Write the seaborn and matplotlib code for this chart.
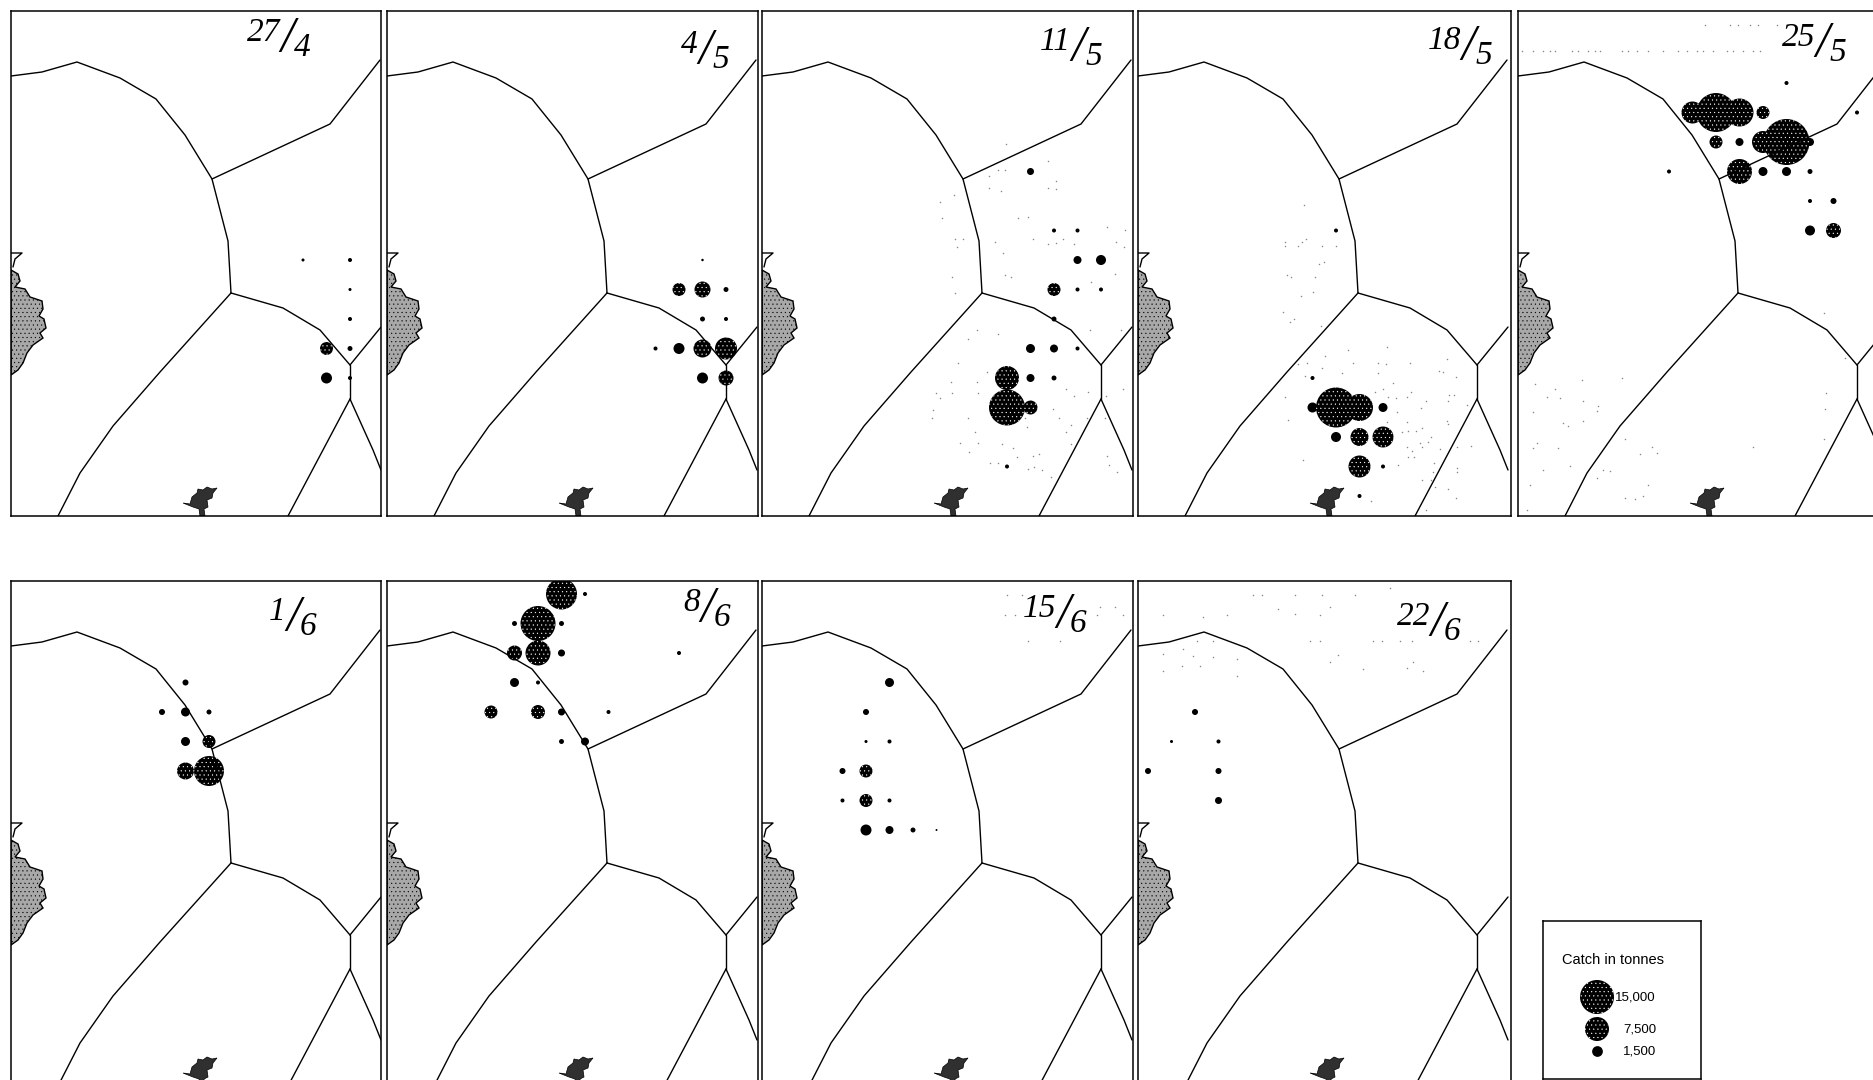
"""
Catch in tonnes per statistical rectangle, one small map per week.
Map coordinates are in panel units (1 unit = 1 pixel of the page).
"""

import matplotlib.pyplot as plt
import pandas as pd
import seaborn as sns

# ------------------------------------------------------------------
# Data
# ------------------------------------------------------------------
# centre of each statistical rectangle on the map
rect_lon = [10, 33.5, 57, 80.5, 104, 127.5, 151, 174.5, 198, 221.5, 245, 268.5, 292, 315.5, 339, 362.5]
rect_lat = [13, 42.5, 72, 101.5, 131, 160.5, 190, 219.5, 249, 278.5, 308, 337.5, 367, 396.5, 426, 455.5, 485]

dates = ["27/4", "4/5", "11/5", "18/5", "25/5", "1/6", "8/6", "15/6", "22/6"]

apr27_col = [12, 14, 14, 14, 14, 14, 13, 13]
apr27_row = [8, 8, 9, 10, 11, 12, 11, 12]
apr27_catch = [120, 210, 120, 210, 320, 210, 2190, 1570]

may04_col = [12, 13, 14, 13, 13, 14, 11, 12, 13, 14, 13, 14]
may04_row = [9, 9, 9, 8, 10, 10, 11, 11, 11, 11, 12, 12]
may04_catch = [2190, 3320, 320, 80, 320, 210, 210, 1570, 4200, 6280, 1570, 2920]

may11_col = [11, 12, 13, 13, 14, 12, 13, 14, 12, 11, 12, 13, 10, 11, 12, 10, 11, 10]
may11_row = [5, 7, 7, 8, 8, 9, 9, 9, 10, 11, 11, 11, 12, 12, 12, 13, 13, 15]
may11_catch = [640, 210, 210, 830, 1300, 2190, 210, 210, 320, 1050, 830, 210, 7470, 830, 320, 16800, 2540, 210]

may18_col = [8, 7, 7, 8, 9, 10, 8, 9, 10, 9, 10, 9]
may18_row = [7, 12, 13, 13, 13, 13, 14, 14, 14, 15, 15, 16]
may18_catch = [210, 210, 1300, 20760, 9460, 1050, 1300, 4200, 5720, 6280, 210, 210]

may25_col = [7, 8, 9, 10, 8, 9, 10, 11, 12, 6, 9, 10, 11, 12, 11, 14, 12, 13, 12, 13]
may25_row = [3, 3, 3, 3, 4, 4, 4, 4, 4, 5, 5, 5, 5, 5, 2, 3, 6, 6, 7, 7]
may25_catch = [6280, 19700, 10170, 2190, 2190, 830, 6280, 27460, 830, 210, 8110, 1050, 1050, 320, 210, 210, 210, 470, 1300, 2920]

jun01_col = [7, 6, 7, 8, 7, 8, 7, 8]
jun01_row = [3, 4, 4, 4, 5, 5, 6, 6]
jun01_catch = [470, 470, 1050, 320, 1050, 2190, 3750, 11680]

jun08_col = [7, 8, 5, 6, 7, 5, 6, 7, 12, 5, 6, 4, 6, 7, 9, 7, 8]
jun08_row = [0, 0, 1, 1, 1, 2, 2, 2, 2, 3, 3, 4, 4, 4, 4, 5, 5]
jun08_catch = [12470, 210, 320, 15900, 320, 2920, 8110, 640, 210, 1050, 210, 2190, 2540, 640, 210, 320, 830]

jun15_col = [5, 4, 4, 5, 3, 4, 3, 4, 5, 4, 5, 6, 7]
jun15_row = [3, 4, 5, 5, 6, 6, 7, 7, 7, 8, 8, 8, 8]
jun15_catch = [1050, 470, 120, 210, 470, 2190, 210, 2190, 210, 1570, 830, 320, 50]

jun22_col = [2, 1, 3, 0, 3, 3]
jun22_row = [4, 5, 5, 6, 6, 7]
jun22_catch = [470, 120, 210, 470, 470, 640]

legend_catch = [15000, 7500, 1500]
legend_labels = ["15,000", "7,500", "1,500"]
legend_title = "Catch in tonnes"

# borders of the fishing zones
border_lines = [
    ([0, 31, 66, 109, 145, 174, 201, 217, 220], [65, 61, 51, 67, 88, 124, 168, 230, 282]),
    ([201, 319, 369], [168, 113, 49]),
    ([220, 272, 309, 339], [282, 297, 319, 354]),
    ([220, 149, 102, 69, 47], [282, 361, 415, 462, 505]),
    ([339, 370], [354, 316]),
    ([339, 339], [354, 388]),
    ([339, 277], [388, 505]),
    ([339, 362, 370], [388, 439, 459]),
]

# coast on the left edge and the islands at the bottom
coast_x = [0, 7, 9, 4, 14, 19, 31, 32, 28, 33, 35, 29, 32, 22, 16, 12, 7, 0]
coast_y = [259, 263, 270, 276, 278, 286, 290, 298, 305, 308, 317, 322, 327, 334, 342, 352, 359, 364]
flag_x = [0, 11, 4, 2]
flag_y = [242, 242, 248, 256]
island_x = [172, 179, 181, 186, 187, 192, 196, 201, 206, 202, 201, 196, 197, 193, 194, 189, 188, 182, 177]
island_y = [492, 493, 486, 482, 478, 479, 476, 478, 477, 482, 487, 489, 496, 498, 505, 505, 498, 496, 494]

# scanner specks on the page, read from the (3x) crops: crop origin, then x and y in crop units
specks_may11 = (930, 140,
    [228, 353, 204, 226, 178, 377, 178, 214, 353, 377, 72, 30, 36, 263, 293, 532, 584, 74, 100, 308, 354, 379, 400, 432,
     558, 582, 80, 195, 218, 65, 225, 243, 555, 483, 74, 480, 572, 140, 204, 114, 85, 170, 62, 140, 18, 65, 145, 30, 8,
     5, 115, 285, 388, 470, 525, 408, 432, 473, 578, 528, 370, 423, 408, 135, 290, 90, 143, 215, 422, 250, 117, 308,
     328, 532, 262, 180, 205, 538, 293, 312, 336, 362, 560],
    [12, 62, 90, 88, 108, 122, 142, 150, 142, 145, 162, 185, 232, 232, 228, 258, 268, 295, 295, 295, 308, 307, 295, 308,
     302, 318, 318, 303, 335, 408, 402, 408, 398, 422, 453, 563, 563, 563, 577, 592, 663, 690, 718, 718, 750, 750, 750,
     765, 802, 825, 825, 825, 825, 825, 825, 740, 760, 748, 740, 760, 800, 846, 866, 866, 853, 900, 900, 903, 903, 915,
     926, 938, 932, 938, 943, 960, 960, 966, 978, 972, 980, 1000, 986])
specks_may18 = (1280, 200,
    [72, 78, 15, 66, 15, 55, 127, 168, 118, 133, 22, 32, 104, 62, 98, 8, 42, 30, 122, 205, 320, 136, 55, 80, 220, 295,
     318, 390, 502, 126, 185, 295, 478, 488, 76, 528, 340, 310, 393, 285, 325, 347, 380, 15, 508, 522, 438, 503, 422,
     352, 560, 24, 380, 322, 500, 505, 385, 408, 367, 425, 453, 420, 443, 380, 425, 480, 395, 530, 572, 385, 402, 70,
     355, 462, 530, 532, 458, 425, 452, 505, 466, 528, 272, 437],
    [14, 115, 125, 125, 138, 138, 138, 138, 190, 183, 222, 230, 228, 285, 273, 333, 352, 362, 375, 446, 438, 463, 487,
     484, 484, 484, 487, 484, 472, 498, 513, 513, 507, 510, 522, 527, 545, 560, 570, 570, 585, 588, 585, 585, 578, 578,
     597, 597, 618, 630, 610, 653, 660, 660, 655, 665, 685, 687, 690, 678, 705, 722, 720, 733, 735, 740, 745, 733, 730,
     763, 763, 772, 787, 782, 795, 808, 808, 832, 832, 858, 852, 885, 893, 920])
specks_may25 = (1500, 0,
    [65, 100, 130, 150, 165, 215, 235, 265, 285, 300, 365, 385, 410, 445, 488, 535, 560, 590, 610, 640, 680, 700, 730,
     760, 780, 615, 690, 715, 750, 775, 830, 105, 165, 245, 365, 140, 180, 250, 295, 100, 290, 190, 250, 205, 100, 175,
     110, 375, 455, 470, 420, 760, 972, 975, 978, 972, 1035, 310, 290, 330, 130, 210, 90, 445, 80, 405, 375, 430],
    [152, 152, 152, 152, 152, 152, 152, 152, 152, 152, 152, 152, 152, 152, 152, 152, 152, 152, 152, 152, 152, 152, 152,
     152, 152, 75, 75, 75, 75, 75, 75, 1140, 1155, 1128, 1122, 1180, 1183, 1190, 1205, 1225, 1220, 1255, 1250, 1265,
     1330, 1330, 1315, 1305, 1328, 1345, 1348, 1328, 1305, 1215, 1168, 930, 1062, 1395, 1420, 1400, 1395, 1385, 1440,
     1440, 1515, 1483, 1480, 1472])
specks_jun = (1000, 575,
    [490, 550, 640, 710, 580, 545, 490, 600, 710, 1015, 990, 1240, 1220, 1270, 1090, 930, 960, 1120, 1145, 1200, 1235,
     1410, 1435, 590, 640, 490, 610, 680, 835, 990, 885, 960, 760, 785, 885, 965, 1065, 1170, 20, 65, 15, 45, 300, 345,
     290, 370, 85, 180],
    [235, 220, 245, 250, 240, 270, 285, 270, 300, 237, 258, 258, 275, 285, 280, 195, 195, 195, 195, 195, 195, 195, 195,
     195, 195, 120, 125, 120, 100, 95, 115, 120, 60, 60, 60, 60, 60, 40, 60, 60, 120, 120, 95, 95, 120, 120, 195, 195])

# ------------------------------------------------------------------
# Layout (page pixels)
# ------------------------------------------------------------------
FIG_W, FIG_H = 1874, 1080
PANEL_H = 505
ROW_TOPS = [11, 581]
PANEL_LEFTS = [11, 387, 762, 1138, 1518]
PANEL_RIGHTS = [381, 758, 1133, 1511, 1874]
SLASH_POS = [(276, 28), (318, 40), (316, 37), (330, 36), (304, 33), (282, 37), (320, 28), (301, 34), (299, 42)]

# marker area in points^2 of a 15,000 t circle (34 px across)
SIZE_15000 = (34 * 0.72) ** 2

sns.set_theme(style="white")
plt.rcParams["font.family"] = ["Liberation Sans", "DejaVu Sans"]
plt.rcParams["hatch.linewidth"] = 0.3


def add_axes_px(left, top, right, bottom):
    return fig.add_axes([left / FIG_W, 1 - bottom / FIG_H, (right - left) / FIG_W, (bottom - top) / FIG_H])


def draw_catch(ax, x, y, catch):
    frame = pd.DataFrame({"x": x, "y": y, "catch": catch})
    # seaborn clips to size_norm, so the scale has to reach past the largest catch
    style = dict(x="x", y="y", size="catch", sizes=(0, 2 * SIZE_15000), size_norm=(0, 30000),
                 color="black", linewidth=0, legend=False, ax=ax)
    # only the larger circles show the print stipple
    small = frame[frame["catch"] < 2000]
    large = frame[frame["catch"] >= 2000]
    if len(small):
        sns.scatterplot(data=small, **style)
    if len(large):
        sns.scatterplot(data=large, edgecolor="white", hatch="....", **style)


def draw_date(ax, date, pos):
    top, bottom = date.split("/")
    hand = dict(family="Liberation Serif", style="italic", color="black")
    ax.text(pos[0] - 7, pos[1] - 6, top, ha="right", va="center", fontsize=24, **hand)
    ax.text(pos[0], pos[1], "/", ha="center", va="center", fontsize=36, **hand)
    ax.text(pos[0] + 7, pos[1] + 9, bottom, ha="left", va="center", fontsize=24, **hand)


def draw_panel(ax, width, date, slash, col, row, catch):
    ax.fill(coast_x, coast_y, facecolor="#a8a8a8", edgecolor="black", hatch="....", linewidth=1)
    ax.plot(flag_x, flag_y, color="black", linewidth=1)
    ax.fill(island_x, island_y, facecolor="#303030", edgecolor="black", linewidth=0.5)
    for line_x, line_y in border_lines:
        ax.plot(line_x, line_y, color="black", linewidth=1)

    draw_catch(ax, [rect_lon[c] for c in col], [rect_lat[r] for r in row], catch)
    draw_date(ax, date, slash)

    ax.set(xlim=(0, width), ylim=(PANEL_H, 0), xticks=[], yticks=[], xlabel="", ylabel="")
    for spine in ax.spines.values():
        spine.set_color("black")
        spine.set_linewidth(1.1)


fig = plt.figure(figsize=(FIG_W / 100, FIG_H / 100), dpi=100, facecolor="white")

panels = [
    (apr27_col, apr27_row, apr27_catch),
    (may04_col, may04_row, may04_catch),
    (may11_col, may11_row, may11_catch),
    (may18_col, may18_row, may18_catch),
    (may25_col, may25_row, may25_catch),
    (jun01_col, jun01_row, jun01_catch),
    (jun08_col, jun08_row, jun08_catch),
    (jun15_col, jun15_row, jun15_catch),
    (jun22_col, jun22_row, jun22_catch),
]

for i, (date, slash, panel) in enumerate(zip(dates, SLASH_POS, panels)):
    row_no = 0 if i < 5 else 1
    slot = i if i < 5 else i - 5
    left, right = PANEL_LEFTS[slot], PANEL_RIGHTS[slot]
    top = ROW_TOPS[row_no]
    ax = add_axes_px(left, top, right, top + PANEL_H)
    draw_panel(ax, right - left, date, slash, *panel)

# Legend box, its own small axes
leg = add_axes_px(1543, 921, 1701, 1079)
draw_catch(leg, [54, 54, 54], [76, 108, 130], legend_catch)
leg.text(70, 39, legend_title, ha="center", va="center", fontsize=10.5, color="black")
for y, label in zip([76, 108, 130], legend_labels):
    leg.text(113, y, label, ha="right", va="center", fontsize=9.5, color="black")
leg.set(xlim=(0, 158), ylim=(158, 0), xticks=[], yticks=[], xlabel="", ylabel="")
for spine in leg.spines.values():
    spine.set_color("black")
    spine.set_linewidth(1.1)

# Scanner specks over the whole page
page = fig.add_axes([0, 0, 1, 1], zorder=5)
page.patch.set_visible(False)
for origin_x, origin_y, crop_x, crop_y in [specks_may11, specks_may18, specks_may25, specks_jun]:
    page.scatter([origin_x + v / 3 for v in crop_x], [origin_y + v * 1.01 / 3 for v in crop_y],
                 s=1.2, color="#888888", linewidth=0)
page.set(xlim=(0, FIG_W), ylim=(FIG_H, 0))
page.axis("off")

fig.savefig("out.png", dpi=100, facecolor="white")
